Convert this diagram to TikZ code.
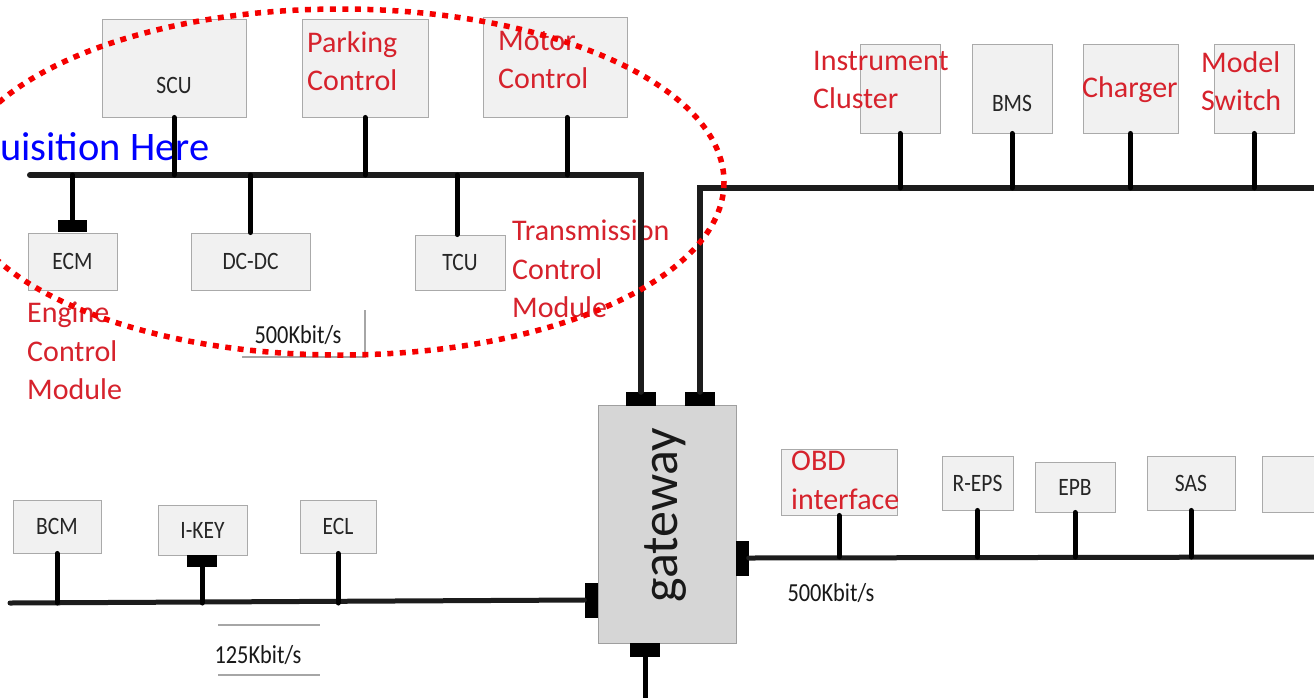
\documentclass[tikz,border=0pt]{standalone}
\usepackage{fontspec}
\setmainfont{Carlito}
\newfontfamily\condf[FakeStretch=0.86]{Carlito}
\definecolor{redtxt}{RGB}{214,34,44}
\definecolor{boxfill}{RGB}{241,241,241}
\definecolor{boxline}{RGB}{170,170,170}
\definecolor{gwfill}{RGB}{214,214,214}
\definecolor{busc}{RGB}{28,28,28}
\definecolor{dotred}{RGB}{245,0,0}
\definecolor{bluetxt}{RGB}{0,0,255}
\begin{document}
\begin{tikzpicture}[x=1pt,y=-1pt,
  box/.style={draw=boxline, fill=boxfill, line width=0.9pt, inner sep=0pt,
    font=\condf\fontsize{25}{28}\selectfont, text=black!85},
  lbl/.style={inner sep=0pt, font=\condf\fontsize{25}{28}\selectfont, text=black!85},
  redlbl/.style={inner sep=0pt, anchor=north west, align=left, text=redtxt,
    font=\fontsize{30}{38.5}\selectfont},
  rate/.style={inner sep=0pt, font=\condf\fontsize{26}{30}\selectfont, text=black!90},
  bus/.style={draw=busc, line width=6pt, line cap=round, line join=miter},
  busthin/.style={draw=busc, line width=5pt, line cap=round},
  stub/.style={draw=black, line width=5pt, line cap=round},
  pad/.style={fill=black, draw=none, inner sep=0pt},
  frameline/.style={draw=gray!70, line width=1.2pt},
  ringdots/.style={draw=dotred, line width=5.5pt, dash pattern=on 6pt off 6.5pt}
]
\useasboundingbox (0,0) rectangle (1314,697);
\clip (0,0) rectangle (1314,697);
\fill[white] (0,0) rectangle (1314,697);

% ---------- bus coordinates ----------
\coordinate (tlA) at (30,175);
\coordinate (trB) at (1314,188);
\coordinate (blA) at (10,603);
\coordinate (rB) at (1314,557);
\coordinate (bB) at (645,700);
\coordinate (ringC) at (340,182);

% ---------- gateway ----------
\node[draw=gray!75, fill=gwfill, line width=1pt, minimum width=138, minimum height=238,
  inner sep=0pt] (gw) at (667,524) {};
\node[rotate=90, inner sep=0pt, font=\fontsize{52}{56}\selectfont, text=black!90]
  (gwtxt) at (666,515) {gateway};
\node[pad, minimum width=30, minimum height=14] (gwTL) at (641,399) {};
\node[pad, minimum width=30, minimum height=14] (gwTR) at (700,399) {};
\node[pad, minimum width=13, minimum height=35] (gwL) at (591,600) {};
\node[pad, minimum width=13, minimum height=35] (gwR) at (742,558) {};
\node[pad, minimum width=30, minimum height=14] (gwB) at (645,650) {};

% ---------- top-left boxes ----------
\node[box, minimum width=144, minimum height=98] (SCU) at (174,68) {};
\node[lbl] (SCUt) at (174,85) {SCU};
\node[box, minimum width=126, minimum height=98] (PARK) at (365,68) {};
\node[redlbl] (PARKt) at (307,31) {Parking\\Control};
\node[box, minimum width=144, minimum height=100] (MOT) at (555,67) {};
\node[redlbl] (MOTt) at (498,31) {Motor\\Control};

\node[box, minimum width=89, minimum height=57] (ECM) at (72.5,261.5) {ECM};
\node[pad, minimum width=29, minimum height=12] (ECMpad) at (72.5,226) {};
\node[box, minimum width=119, minimum height=57] (DCDC) at (250.5,261.5) {DC-DC};
\node[box, minimum width=90, minimum height=55] (TCU) at (460,262.5) {TCU};

\node[redlbl] (ECMt) at (27,302) {Engine\\Control\\Module};
\node[redlbl] (TCUt) at (512,220) {Transmission\\Control\\Module};

\node[rate] (rate1) at (298,335) {500Kbit/s};
\draw[frameline] (365,310) -- (365,357) -- (242,357);

\node[inner sep=0pt, anchor=base west, text=bluetxt, font=\fontsize{40.5}{44}\selectfont]
  (acq) at (0,160) {uisition Here};

% ---------- top-right boxes ----------
\node[box, minimum width=80, minimum height=89] (INS) at (900,88.5) {};
\node[redlbl] (INSt) at (813,51) {Instrument\\Cluster};
\node[box, minimum width=80, minimum height=89] (BMS) at (1012,88.5) {};
\node[lbl] (BMSt) at (1012,103) {BMS};
\node[box, minimum width=95, minimum height=89] (CHG) at (1130.5,88.5) {};
\node[redlbl] (CHGt) at (1082,76) {Charger};
\node[box, minimum width=80, minimum height=89] (MOD) at (1254,88.5) {};
\node[redlbl] (MODt) at (1201,51) {Model\\Switch};

% ---------- bottom-left boxes ----------
\node[box, minimum width=88, minimum height=53] (BCM) at (57,526.5) {BCM};
\node[box, minimum width=89, minimum height=50] (IKEY) at (202.5,530) {I-KEY};
\node[pad, minimum width=30, minimum height=12] (IKEYpad) at (202,561) {};
\node[box, minimum width=76, minimum height=53] (ECL) at (338,526.5) {ECL};
\node[rate] (rate2) at (258,655) {125Kbit/s};
\draw[frameline] (218,625) -- (320,625);
\draw[frameline] (218,675) -- (320,675);

% ---------- bottom-right boxes ----------
\node[box, minimum width=116, minimum height=66] (OBD) at (839,482) {};
\node[redlbl] (OBDt) at (791,451) {OBD\\interface};
\node[box, minimum width=71, minimum height=54] (REPS) at (977.5,483) {R-EPS};
\node[box, minimum width=80, minimum height=50] (EPB) at (1075,487) {EPB};
\node[box, minimum width=88, minimum height=54] (SAS) at (1191,483) {SAS};
\node[box, minimum width=58, minimum height=56] (AX) at (1291,484) {};
\node[rate] (rate3) at (831,593) {500Kbit/s};

% ---------- buses ----------
\draw[bus] (tlA) -- (gwTL.north |- tlA) -- (gwTL.north);
\draw[bus] (gwTR.north) -- (gwTR.north |- trB) -- (trB);
\draw[busthin] (blA) -- (gwL.west);
\draw[busthin] (gwR.east) -- (rB);
\draw[stub, line cap=butt] (gwB.south) -- (bB);

% ---------- stubs ----------
\draw[stub] (SCU.south) -- (SCU.south |- tlA);
\draw[stub] (PARK.south) -- (PARK.south |- tlA);
\draw[stub] ([xshift=12pt]MOT.south) -- ([xshift=12pt]MOT.south |- tlA);
\draw[stub] (ECMpad.north |- tlA) -- (ECMpad.north);
\draw[stub] (DCDC.north |- tlA) -- (DCDC.north);
\draw[stub] ([xshift=-3pt]TCU.north |- tlA) -- ([xshift=-3pt]TCU.north);

\draw[stub] (INS.south) -- (INS.south |- trB);
\draw[stub] (BMS.south) -- (BMS.south |- trB);
\draw[stub] (CHG.south) -- (CHG.south |- trB);
\draw[stub] (MOD.south) -- (MOD.south |- trB);

\draw[stub] (BCM.south) -- (BCM.south |- blA);
\draw[stub] (IKEYpad.south) -- (IKEYpad.south |- blA);
\draw[stub] (ECL.south) -- (ECL.south |- blA);

\draw[stub] (OBD.south) -- (OBD.south |- rB);
\draw[stub] (REPS.south) -- (REPS.south |- rB);
\draw[stub] (EPB.south) -- (EPB.south |- rB);
\draw[stub] (SAS.south) -- (SAS.south |- rB);

% ---------- dotted ring ----------
\draw[ringdots] (ringC) ellipse [x radius=384, y radius=173];
\end{tikzpicture}
\end{document}
